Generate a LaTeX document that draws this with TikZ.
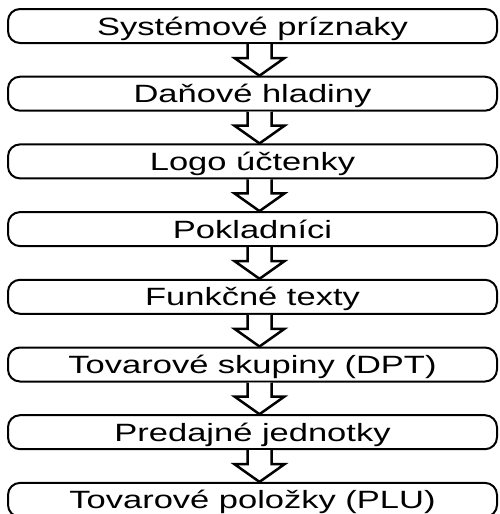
\documentclass[tikz,border=0pt]{standalone}
\usepackage{fontspec}
\usepackage{graphicx}
\setmainfont{Liberation Sans}
\usetikzlibrary{calc}

\begin{document}
\begin{tikzpicture}

    % 画布大小
    \useasboundingbox (0,0) rectangle (499pt,-514pt);

    % 定义参数
    \def\dy{67.7}  % 方框间距
    \def\sx{1.38}  % 文字横向拉伸
    \tikzset{
        stepbox/.style={draw, line width=2pt, rounded corners=12pt,
            minimum width=489pt, minimum height=34pt, inner sep=0pt,
            text height=18pt, text depth=0pt,
            font=\fontsize{25}{30}\selectfont},
        blockarrow/.style={draw, fill=white, line width=2.5pt, line join=miter}
    }

    % 循环绘制方框
    \foreach \name [count=\i] in {Systémové príznaky, Daňové hladiny, Logo účtenky,
        Pokladníci, Funkčné texty, Tovarové skupiny (DPT), Predajné jednotky,
        Tovarové položky (PLU)} {
        \node[stepbox] (b\i) at (252.5pt, {-26pt-\dy*(\i-1)*1pt}) {\scalebox{\sx}[1]{\name}};
    }

    % 循环绘制箭头
    \foreach \i [evaluate=\i as \j using int(\i+1)] in {1,...,7} {
        \draw[blockarrow] ($(b\i.south)+(-5pt,0)$) -- ++(0,-14pt) -- ++(-13pt,0)
            -- ($(b\j.north)+(7pt,0)$) -- ($(b\i.south)+(32pt,-14pt)$)
            -- ++(-13pt,0) -- ++(0,14pt);
    }

\end{tikzpicture}
\end{document}
